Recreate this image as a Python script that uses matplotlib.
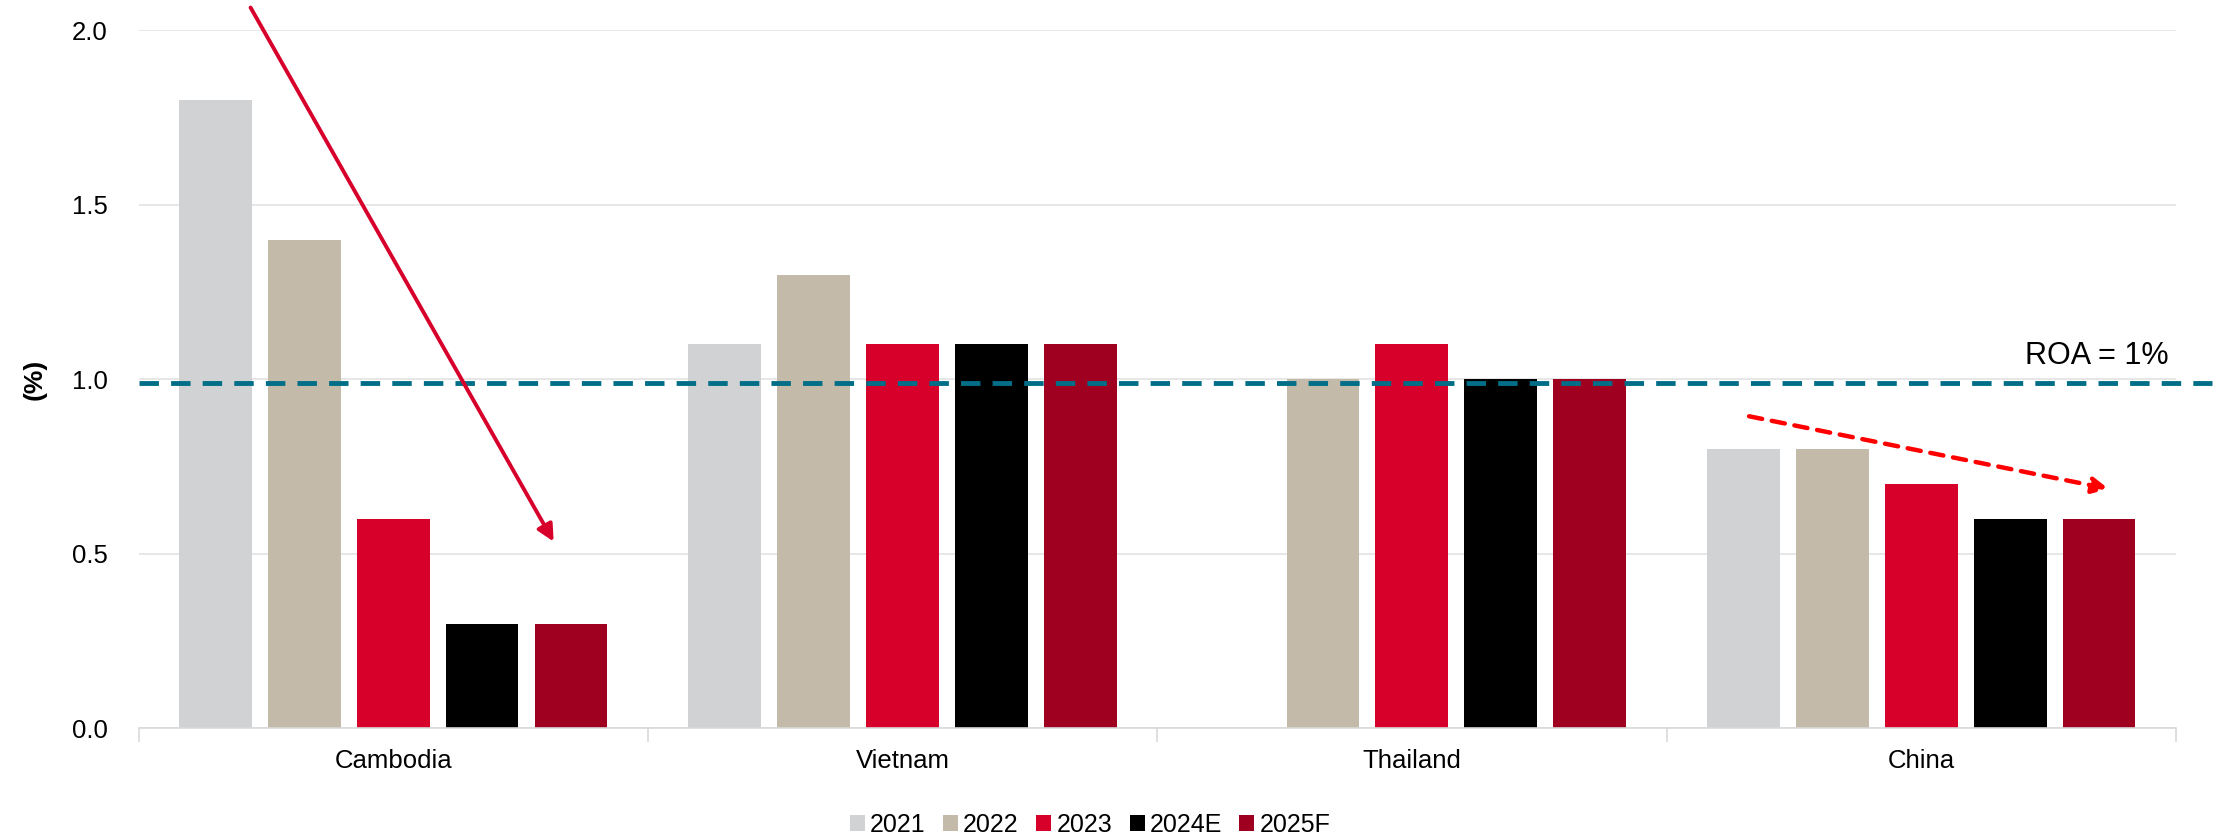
import numpy as np
import matplotlib
matplotlib.use("Agg")
import matplotlib.pyplot as plt
from matplotlib import font_manager

# ROA by country, %
countries = ["Cambodia", "Vietnam", "Thailand", "China"]
years = ["2021", "2022", "2023", "2024E", "2025F"]
roa_2021 = [1.8, 1.1, np.nan, 0.8]
roa_2022 = [1.4, 1.3, 1.0, 0.8]
roa_2023 = [0.6, 1.1, 1.1, 0.7]
roa_2024 = [0.3, 1.1, 1.0, 0.6]
roa_2025 = [0.3, 1.1, 1.0, 0.6]
series = [roa_2021, roa_2022, roa_2023, roa_2024, roa_2025]
colors = ["#D0D2D3", "#C4BAA9", "#D7002B", "#000000", "#A00020"]
roa_threshold = 0.99

names = {f.name for f in font_manager.fontManager.ttflist}
narrow = "Liberation Sans Narrow" if "Liberation Sans Narrow" in names else "Liberation Sans"
plt.rcParams["font.family"] = [narrow, "DejaVu Sans"]

fig = plt.figure(figsize=(22.34, 8.4), dpi=100)
ax = fig.add_axes([0.062, 0.133, 0.912, 0.831])

x = np.arange(len(countries))
pitch = 0.1745
width = 0.143
for i, (vals, col, lab) in enumerate(zip(series, colors, years)):
    ax.bar(x + (i - 2) * pitch, vals, width, color=col, label=lab, zorder=2)

ax.set_xlim(-0.5, len(countries) - 0.5)
ax.set_ylim(0, 2.0)
ax.set_yticks(np.arange(0, 2.01, 0.5))
ax.set_yticklabels([f"{v:.1f}" for v in np.arange(0, 2.01, 0.5)], fontsize=18.5)
ax.set_xticks(x)
ax.set_xticklabels(countries, fontsize=18.5)
ax.set_xticks(np.arange(-0.5, len(countries), 1.0), minor=True)
ax.tick_params(axis="x", which="major", length=0, pad=15)
ax.tick_params(axis="x", which="minor", length=10, color="#D9D9D9", width=1.2)
ax.tick_params(axis="y", length=0, pad=22)
ax.grid(axis="y", color="#E3E3E3", linewidth=1.2, zorder=0)
ax.set_axisbelow(True)
for s in ["top", "right", "left"]:
    ax.spines[s].set_visible(False)
ax.spines["bottom"].set_color("#D9D9D9")
ax.spines["bottom"].set_linewidth(1.2)

ax.set_ylabel("(%)", fontsize=19, fontweight="bold", labelpad=18)

# ROA = 1% reference line, runs past the plot area on the right
ax.plot([-0.5, 3.57], [roa_threshold, roa_threshold], color="#006E87",
        linestyle=(0, (4, 2.5)), linewidth=3.5, clip_on=False, zorder=3)
ax.text(3.485, roa_threshold + 0.035, "ROA = 1%", fontsize=22, ha="right",
        va="bottom", family=["Liberation Sans", "DejaVu Sans"])

# trend arrows
ax.annotate("", xy=(0.315, 0.535), xytext=(-0.28, 2.065),
            arrowprops=dict(arrowstyle="-|>", color="#D7002B", lw=2.8,
                            mutation_scale=25, shrinkA=0, shrinkB=0),
            annotation_clip=False, zorder=4)
ax.annotate("", xy=(3.368, 0.686), xytext=(2.662, 0.894),
            arrowprops=dict(arrowstyle="-|>", color="#FF0000", lw=3.2,
                            linestyle=(0, (3, 2.2)), mutation_scale=24,
                            shrinkA=0, shrinkB=0),
            annotation_clip=False, zorder=4)

fig.legend(loc="center", bbox_to_anchor=(0.488, 0.018), ncol=5, frameon=False,
           fontsize=18, handlelength=0.6, handleheight=0.6, handletextpad=0.2,
           columnspacing=0.7)

fig.savefig("out.png", dpi=100)
